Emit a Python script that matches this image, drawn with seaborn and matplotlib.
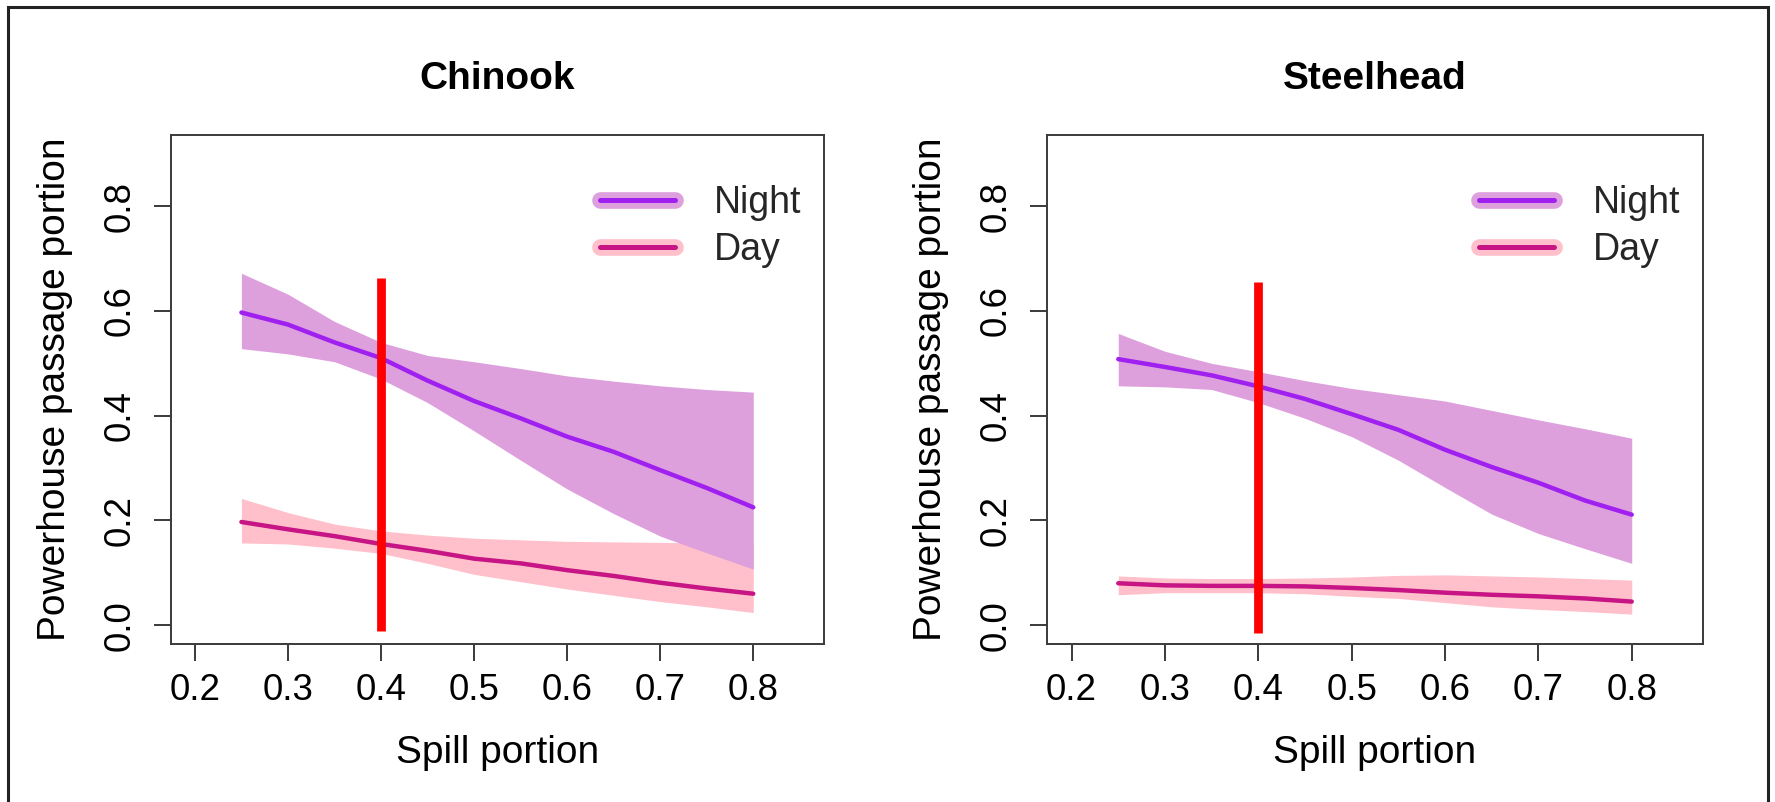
import numpy as np
import pandas as pd
import matplotlib
matplotlib.use("Agg")
import matplotlib.pyplot as plt
from matplotlib.lines import Line2D
from matplotlib.patches import Rectangle
import seaborn as sns

# ---------------- data ----------------
spill = [0.25, 0.30, 0.35, 0.40, 0.45, 0.50, 0.55, 0.60, 0.65, 0.70, 0.75, 0.80]

chinook_night_mean = [0.597, 0.574, 0.540, 0.510, 0.467, 0.428, 0.395, 0.360, 0.331, 0.296, 0.262, 0.225]
chinook_night_hi = [0.672, 0.632, 0.580, 0.540, 0.515, 0.503, 0.490, 0.476, 0.466, 0.457, 0.450, 0.445]
chinook_night_lo = [0.528, 0.518, 0.503, 0.470, 0.425, 0.371, 0.315, 0.260, 0.213, 0.170, 0.138, 0.107]
chinook_day_mean = [0.197, 0.183, 0.170, 0.155, 0.142, 0.127, 0.118, 0.105, 0.094, 0.081, 0.070, 0.060]
chinook_day_hi = [0.242, 0.215, 0.193, 0.180, 0.172, 0.166, 0.163, 0.160, 0.159, 0.158, 0.157, 0.155]
chinook_day_lo = [0.157, 0.155, 0.147, 0.137, 0.118, 0.097, 0.083, 0.069, 0.057, 0.045, 0.035, 0.024]

steel_night_mean = [0.508, 0.493, 0.477, 0.456, 0.432, 0.403, 0.373, 0.335, 0.302, 0.272, 0.238, 0.211]
steel_night_hi = [0.557, 0.523, 0.500, 0.484, 0.467, 0.452, 0.440, 0.428, 0.410, 0.392, 0.375, 0.357]
steel_night_lo = [0.457, 0.455, 0.450, 0.425, 0.395, 0.360, 0.315, 0.263, 0.212, 0.175, 0.146, 0.118]
steel_day_mean = [0.080, 0.076, 0.075, 0.075, 0.074, 0.071, 0.067, 0.062, 0.058, 0.055, 0.051, 0.045]
steel_day_hi = [0.094, 0.090, 0.089, 0.089, 0.090, 0.092, 0.095, 0.096, 0.094, 0.092, 0.089, 0.086]
steel_day_lo = [0.058, 0.062, 0.062, 0.062, 0.060, 0.055, 0.051, 0.043, 0.035, 0.030, 0.026, 0.021]

species = ["Chinook", "Steelhead"]
periods = ["Night", "Day"]
threshold_x = 0.4
threshold_span = {"Chinook": (-0.011, 0.662), "Steelhead": (-0.015, 0.656)}

x_ticks = [0.2, 0.3, 0.4, 0.5, 0.6, 0.7, 0.8]
y_ticks = [0.0, 0.2, 0.4, 0.6, 0.8]
x_label = "Spill portion"
y_label = "Powerhouse passage portion"

# ---------------- style ----------------
sns.set_theme(style="ticks")
plt.rcParams["font.family"] = ["Liberation Sans", "DejaVu Sans"]

night_line = "#A020F0"
night_fill = "#DDA0DD"
day_line = "#C71585"
day_fill = "#FFC0CB"
spine_col = "#3a3a3a"

series = {
    "Chinook": {
        "Night": (chinook_night_mean, chinook_night_lo, chinook_night_hi),
        "Day": (chinook_day_mean, chinook_day_lo, chinook_day_hi),
    },
    "Steelhead": {
        "Night": (steel_night_mean, steel_night_lo, steel_night_hi),
        "Day": (steel_day_mean, steel_day_lo, steel_day_hi),
    },
}

W, H = 1775, 802
fig = plt.figure(figsize=(W / 100, H / 100), dpi=100)
fig.patch.set_facecolor("white")

axes_px = {"Chinook": (170.7, 824.0), "Steelhead": (1047.3, 1702.7)}
top_px, bot_px = 135.0, 644.0

fs_tick = 26.5
fs_lab = 28
fs_title = 28

for sp in species:
    l, r = axes_px[sp]
    ax = fig.add_axes([l / W, 1 - bot_px / H, (r - l) / W, (bot_px - top_px) / H])
    ax.set_facecolor("white")

    long = []
    for per in periods:
        m, lo, hi = series[sp][per]
        for xv, mv in zip(spill, m):
            long.append({"spill": xv, "value": mv, "period": per})
    df = pd.DataFrame(long)

    # bands: day first, night on top
    m, lo, hi = series[sp]["Day"]
    ax.fill_between(spill, lo, hi, color=day_fill, lw=0, zorder=1)
    m, lo, hi = series[sp]["Night"]
    ax.fill_between(spill, lo, hi, color=night_fill, lw=0, zorder=2)

    sns.lineplot(data=df, x="spill", y="value", hue="period",
                 palette={"Night": night_line, "Day": day_line},
                 hue_order=["Day", "Night"], lw=3.2, ax=ax, legend=False,
                 zorder=3, estimator=None, sort=True)

    y0, y1 = threshold_span[sp]
    ax.vlines(threshold_x, y0, y1, color="#FF0000", lw=6.3, zorder=5, capstyle="butt")

    ax.set_xlim(0.174, 0.876)
    ax.set_ylim(-0.036, 0.936)
    ax.set_xticks(x_ticks)
    ax.set_yticks(y_ticks)
    ax.set_xticklabels([f"{v:.1f}" for v in x_ticks], fontsize=fs_tick)
    ax.set_yticklabels([f"{v:.1f}" for v in y_ticks], fontsize=fs_tick,
                       rotation=90, va="center")
    ax.tick_params(axis="both", direction="out", length=12, width=1.4,
                   color=spine_col, labelcolor="black")
    ax.tick_params(axis="x", pad=9)
    ax.tick_params(axis="y", pad=12)
    for s in ax.spines.values():
        s.set_visible(True)
        s.set_color(spine_col)
        s.set_linewidth(1.4)

    ax.set_xlabel(x_label, fontsize=fs_lab, color="black")
    ax.set_ylabel(y_label, fontsize=fs_lab, color="black")
    ax.xaxis.set_label_coords(0.5, -0.179)
    ax.yaxis.set_label_coords(-0.15, 0.5)
    ax.set_title(sp, fontsize=fs_title, fontweight="bold", pad=33, color="black")

    handles = [
        (Line2D([], [], color=night_fill, lw=12, solid_capstyle="round"),
         Line2D([], [], color=night_line, lw=3.6, solid_capstyle="round")),
        (Line2D([], [], color=day_fill, lw=12, solid_capstyle="round"),
         Line2D([], [], color=day_line, lw=3.6, solid_capstyle="round")),
    ]
    ax.legend(handles=handles, labels=periods, loc="upper right",
              bbox_to_anchor=(0.966, 0.902), frameon=False, fontsize=27,
              handlelength=2.0, handletextpad=1.05, labelspacing=0.29,
              borderpad=0, borderaxespad=0)

# outer frame
fig.patches.append(Rectangle((8 / W, -0.05), (1768 - 8) / W, 1.05 - 7 / H,
                             transform=fig.transFigure, fill=False,
                             edgecolor="#222222", lw=2.2))

fig.savefig("out.png", dpi=100, facecolor="white")
